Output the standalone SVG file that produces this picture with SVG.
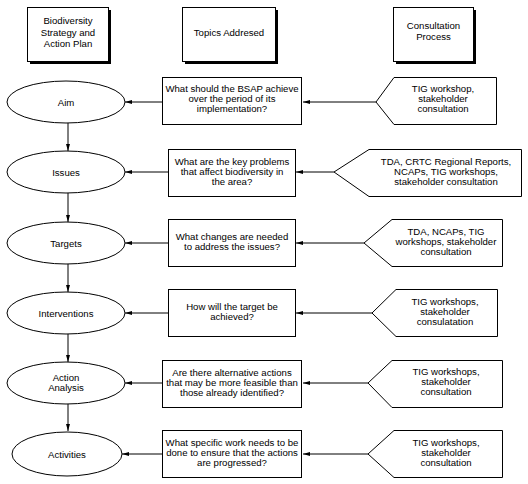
<svg xmlns="http://www.w3.org/2000/svg" width="528" height="484" viewBox="0 0 528 484">
<style>
text{font-family:"Liberation Sans",Arial,sans-serif;font-size:9.6px;fill:#000;text-anchor:middle}
.sh{fill:#000}
.bx{fill:#fff;stroke:#000;stroke-width:1}
.el{fill:#fff;stroke:#000;stroke-width:1}
.ln{stroke:#000;stroke-width:1;fill:none}
</style>
<defs>
<marker id="ah" viewBox="0 0 7 4" refX="7" refY="2" markerWidth="7" markerHeight="4" markerUnits="userSpaceOnUse" orient="auto">
<path d="M0,0 L7,2 L0,4 z" fill="#000"/>
</marker>
</defs>
<rect width="528" height="484" fill="#fff"/>

<g id="h1">
<rect class="sh" x="30" y="10" width="81" height="54"/>
<rect class="bx" x="27.5" y="7.5" width="81" height="54"/>
<text x="68" y="24">Biodiversity</text>
<text x="68" y="35.5">Strategy and</text>
<text x="68" y="47">Action Plan</text>
</g>
<g id="h2">
<rect class="sh" x="185" y="10" width="93" height="54"/>
<rect class="bx" x="182.5" y="7.5" width="93" height="54"/>
<text x="229" y="35.5">Topics Addresed</text>
</g>
<g id="h3">
<rect class="sh" x="396" y="10" width="80" height="54"/>
<rect class="bx" x="393.5" y="7.5" width="80" height="54"/>
<text x="433.5" y="28.5">Consultation</text>
<text x="433.5" y="40">Process</text>
</g>

<g id="connectors">
<line class="ln" x1="68" y1="123" x2="68" y2="151" marker-end="url(#ah)"/>
<line class="ln" x1="68" y1="193" x2="68" y2="222" marker-end="url(#ah)"/>
<line class="ln" x1="68" y1="264" x2="68" y2="292" marker-end="url(#ah)"/>
<line class="ln" x1="68" y1="334" x2="68" y2="362" marker-end="url(#ah)"/>
<line class="ln" x1="68" y1="404" x2="68" y2="431" marker-end="url(#ah)"/>

<line class="ln" x1="162" y1="102" x2="125" y2="102" marker-end="url(#ah)"/>
<line class="ln" x1="168" y1="172" x2="125" y2="172" marker-end="url(#ah)"/>
<line class="ln" x1="168" y1="243" x2="125" y2="243" marker-end="url(#ah)"/>
<line class="ln" x1="168" y1="313" x2="125" y2="313" marker-end="url(#ah)"/>
<line class="ln" x1="162" y1="383" x2="125" y2="383" marker-end="url(#ah)"/>
<line class="ln" x1="162" y1="454" x2="122" y2="454" marker-end="url(#ah)"/>

<line class="ln" x1="376" y1="102" x2="303" y2="102" marker-end="url(#ah)"/>
<line class="ln" x1="334" y1="172" x2="296" y2="172" marker-end="url(#ah)"/>
<line class="ln" x1="364" y1="243" x2="296" y2="243" marker-end="url(#ah)"/>
<line class="ln" x1="372" y1="313" x2="296" y2="313" marker-end="url(#ah)"/>
<line class="ln" x1="368" y1="383" x2="303" y2="383" marker-end="url(#ah)"/>
<line class="ln" x1="368" y1="454" x2="303" y2="454" marker-end="url(#ah)"/>
</g>

<g id="aim">
<ellipse class="el" cx="66" cy="102" rx="59" ry="21"/>
<text x="66" y="105.5">Aim</text>
</g>
<g id="issues">
<ellipse class="el" cx="66" cy="172" rx="59" ry="21"/>
<text x="66" y="175.5">Issues</text>
</g>
<g id="targets">
<ellipse class="el" cx="66" cy="243" rx="59" ry="21"/>
<text x="66" y="246.5">Targets</text>
</g>
<g id="interventions">
<ellipse class="el" cx="66" cy="313" rx="59" ry="21"/>
<text x="66" y="316.5">Interventions</text>
</g>
<g id="action-analysis">
<ellipse class="el" cx="66" cy="383" rx="59" ry="21"/>
<text x="66" y="380.5">Action</text>
<text x="66" y="391">Analysis</text>
</g>
<g id="activities">
<ellipse class="el" cx="67" cy="454" rx="55" ry="22"/>
<text x="67" y="457.5">Activities</text>
</g>

<g id="q-aim">
<rect class="bx" x="162.5" y="77.5" width="139" height="47"/>
<text x="232" y="92">What should the BSAP achieve</text>
<text x="232" y="102">over the period of its</text>
<text x="232" y="112">implementation?</text>
</g>
<g id="q-issues">
<rect class="bx" x="168.5" y="149.5" width="127" height="47"/>
<text x="232" y="165">What are the key problems</text>
<text x="232" y="175">that affect biodiversity in</text>
<text x="232" y="185">the area?</text>
</g>
<g id="q-targets">
<rect class="bx" x="168.5" y="219.5" width="127" height="47"/>
<text x="232" y="240">What changes are needed</text>
<text x="232" y="250">to address the issues?</text>
</g>
<g id="q-interventions">
<rect class="bx" x="168.5" y="289.5" width="127" height="47"/>
<text x="232" y="310">How will the target  be</text>
<text x="232" y="320">achieved?</text>
</g>
<g id="q-action-analysis">
<rect class="bx" x="162.5" y="360.5" width="139" height="47"/>
<text x="232" y="376">Are there alternative actions</text>
<text x="232" y="386">that may be more feasible than</text>
<text x="232" y="396">those already identified?</text>
</g>
<g id="q-activities">
<rect class="bx" x="162.5" y="430.5" width="139" height="47"/>
<text x="232" y="446">What specific work needs to be</text>
<text x="232" y="456">done to ensure that the actions</text>
<text x="232" y="466">are progressed?</text>
</g>

<g id="c-aim">
<path class="bx" d="M376,102 L394,77.5 L496.5,77.5 L496.5,124.5 L394,124.5 Z"/>
<text x="443" y="92">TIG workshop,</text>
<text x="443" y="102">stakeholder</text>
<text x="443" y="112">consultation</text>
</g>
<g id="c-issues">
<path class="bx" d="M334,172 L369,149.5 L521.5,149.5 L521.5,196.5 L369,196.5 Z"/>
<text x="446" y="165">TDA, CRTC Regional Reports,</text>
<text x="446" y="175">NCAPs, TIG workshops,</text>
<text x="446" y="185">stakeholder consultation</text>
</g>
<g id="c-targets">
<path class="bx" d="M364,243 L392,219.5 L502.5,219.5 L502.5,266.5 L392,266.5 Z"/>
<text x="446" y="235">TDA, NCAPs, TIG</text>
<text x="446" y="245">workshops, stakeholder</text>
<text x="446" y="255">consultation</text>
</g>
<g id="c-interventions">
<path class="bx" d="M372,313 L396,289.5 L497.5,289.5 L497.5,336.5 L396,336.5 Z"/>
<text x="445" y="305">TIG workshops,</text>
<text x="445" y="315">stakeholder</text>
<text x="445" y="325">consulatation</text>
</g>
<g id="c-action-analysis">
<path class="bx" d="M368,383 L392,360.5 L502.5,360.5 L502.5,407.5 L392,407.5 Z"/>
<text x="446" y="375">TIG workshops,</text>
<text x="446" y="385">stakeholder</text>
<text x="446" y="395">consultation</text>
</g>
<g id="c-activities">
<path class="bx" d="M368,454 L394,430.5 L502.5,430.5 L502.5,477.5 L394,477.5 Z"/>
<text x="446" y="446">TIG workshops,</text>
<text x="446" y="456">stakeholder</text>
<text x="446" y="466">consultation</text>
</g>
</svg>
